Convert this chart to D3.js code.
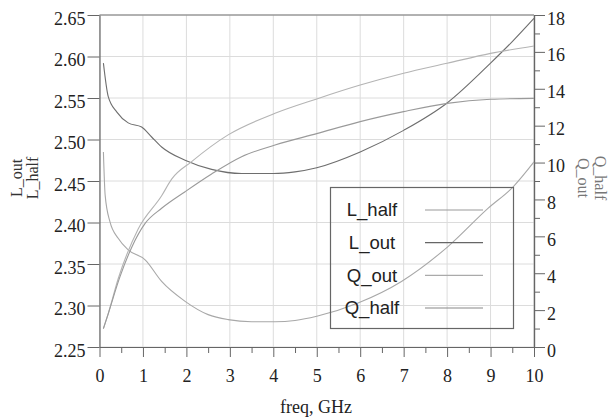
<!DOCTYPE html>
<html>
<head>
<meta charset="utf-8">
<script src="https://cdn.jsdelivr.net/npm/d3@7"></script>
<style>
  html, body { margin: 0; padding: 0; background: #fff; }
  svg { display: block; }
</style>
</head>
<body>
<svg id="chart" width="614" height="420"></svg>
<script>
// Inductance (left axis) and quality factor (right axis) versus frequency
const freqLout = [0.09, 0.2, 0.4, 0.66, 0.97, 1.2, 1.43, 1.97, 2.58, 3.27, 4.0, 4.5, 5.0, 6.0, 7.0, 8.0, 9.0, 9.5, 10.0];
const L_out    = [2.592, 2.552, 2.533, 2.520, 2.515, 2.503, 2.491, 2.475, 2.464, 2.459, 2.459, 2.461, 2.466, 2.485, 2.511, 2.544, 2.592, 2.618, 2.646];

const freqLhalf = [0.09, 0.13, 0.24, 0.43, 0.66, 1.05, 1.43, 1.97, 2.5, 2.96, 3.5, 4.04, 4.5, 5.0, 5.95, 6.95, 8.02, 8.94, 9.52, 10.0];
const L_half    = [2.485, 2.433, 2.401, 2.381, 2.367, 2.355, 2.329, 2.305, 2.289, 2.283, 2.2805, 2.2805, 2.282, 2.287, 2.303, 2.329, 2.371, 2.417, 2.443, 2.473];

const freqQout = [0.09, 0.2, 0.43, 0.89, 1.43, 1.66, 2.12, 2.96, 4.04, 5.0, 6.0, 7.0, 8.0, 9.0, 10.0];
const Q_out    = [1.0, 1.8, 3.7, 6.4, 8.2, 9.1, 10.05, 11.5, 12.67, 13.45, 14.2, 14.84, 15.38, 15.92, 16.32];

const freqQhalf = [0.09, 0.2, 0.47, 0.74, 1.05, 1.43, 1.97, 2.58, 3.27, 4.04, 5.0, 6.0, 7.0, 8.0, 9.0, 10.0];
const Q_half    = [1.0, 1.8, 3.8, 5.4, 6.7, 7.52, 8.42, 9.38, 10.32, 10.95, 11.57, 12.22, 12.76, 13.21, 13.43, 13.48];

const freqTicks = [0, 1, 2, 3, 4, 5, 6, 7, 8, 9, 10];
const freqMinor = [0.5, 1.5, 2.5, 3.5, 4.5, 5.5, 6.5, 7.5, 8.5, 9.5];
const lTicks = [2.25, 2.30, 2.35, 2.40, 2.45, 2.50, 2.55, 2.60, 2.65];
const qTicks = [0, 2, 4, 6, 8, 10, 12, 14, 16, 18];
const qMinor = [1, 3, 5, 7, 9, 11, 13, 15, 17];

const legendNames = ["L_half", "L_out", "Q_out", "Q_half"];

const svg = d3.select("#chart");
const plotLeft = 99.5, plotRight = 534, plotTop = 15, plotBottom = 347;

const x = d3.scaleLinear().domain([0, 10]).range([plotLeft, plotRight]);
const yL = d3.scaleLinear().domain([2.25, 2.65]).range([plotBottom, plotTop]);
const yQ = d3.scaleLinear().domain([0, 18]).range([plotBottom, plotTop]);

const serif = "'Liberation Serif', 'Times New Roman', serif";
const sans = "'Liberation Sans', Arial, sans-serif";

// grid
const grid = svg.append("g").attr("stroke", "#dcdcdc").attr("stroke-width", 1);
grid.selectAll("line.v").data(freqTicks).join("line")
  .attr("x1", d => x(d)).attr("x2", d => x(d))
  .attr("y1", plotTop).attr("y2", plotBottom);
grid.selectAll("line.h").data(lTicks).join("line")
  .attr("x1", plotLeft).attr("x2", plotRight)
  .attr("y1", d => yL(d)).attr("y2", d => yL(d));

// frame top
svg.append("line").attr("x1", plotLeft).attr("x2", plotRight).attr("y1", plotTop).attr("y2", plotTop)
  .attr("stroke", "#777").attr("stroke-width", 1.2);

function styleAxis(g) {
  g.select(".domain").attr("stroke", "#666").attr("stroke-width", 1.2);
  g.selectAll(".tick line").attr("stroke", "#666");
  g.selectAll("text").attr("font-family", serif).attr("font-size", 18).attr("fill", "#222");
}

// left axis
svg.append("g").attr("transform", `translate(${plotLeft},0)`)
  .call(d3.axisLeft(yL).tickValues(lTicks).tickFormat(d3.format(".2f")).tickSize(12).tickPadding(2).tickSizeOuter(0))
  .call(styleAxis)
  .call(g => g.selectAll("text").attr("dy", "0.5em"));

// right axis
svg.append("g").attr("transform", `translate(${plotRight},0)`)
  .call(d3.axisRight(yQ).tickValues(qTicks).tickSize(11).tickPadding(2).tickSizeOuter(0))
  .call(styleAxis)
  .call(g => g.selectAll("text").attr("dy", "0.5em"));
svg.append("g").attr("transform", `translate(${plotRight},0)`)
  .call(d3.axisRight(yQ).tickValues(qMinor).tickSize(6).tickFormat("").tickSizeOuter(0))
  .call(styleAxis);

// bottom axis
svg.append("g").attr("transform", `translate(0,${plotBottom})`)
  .call(d3.axisBottom(x).tickValues(freqTicks).tickSize(10).tickPadding(12).tickSizeOuter(0))
  .call(styleAxis);
svg.append("g").attr("transform", `translate(0,${plotBottom})`)
  .call(d3.axisBottom(x).tickValues(freqMinor).tickSize(6).tickFormat("").tickSizeOuter(0))
  .call(styleAxis);

// axis titles
svg.append("text").attr("x", 316).attr("y", 413).attr("text-anchor", "middle")
  .attr("font-family", serif).attr("font-size", 18).attr("fill", "#222").text("freq, GHz");

const ly = (plotTop + plotBottom) / 2 - 3;
svg.append("text").attr("transform", `translate(22,${ly}) rotate(-90)`).attr("text-anchor", "middle")
  .attr("font-family", serif).attr("font-size", 16).attr("fill", "#333").text("L_out");
svg.append("text").attr("transform", `translate(38,${ly}) rotate(-90)`).attr("text-anchor", "middle")
  .attr("font-family", serif).attr("font-size", 16).attr("fill", "#333").text("L_half");
svg.append("text").attr("transform", `translate(595,${ly}) rotate(90)`).attr("text-anchor", "middle")
  .attr("font-family", serif).attr("font-size", 16).attr("fill", "#777").text("Q_half");
svg.append("text").attr("transform", `translate(578,${ly}) rotate(90)`).attr("text-anchor", "middle")
  .attr("font-family", serif).attr("font-size", 16).attr("fill", "#777").text("Q_out");

// curves
const series = [
  { f: freqLhalf, v: L_half, y: yL, color: "#a8a8a8" },
  { f: freqLout,  v: L_out,  y: yL, color: "#6e6e6e" },
  { f: freqQout,  v: Q_out,  y: yQ, color: "#b4b4b4" },
  { f: freqQhalf, v: Q_half, y: yQ, color: "#9a9a9a" }
];
series.forEach(s => {
  const line = d3.line().x((d, i) => x(s.f[i])).y(d => s.y(d)).curve(d3.curveMonotoneX);
  svg.append("path").datum(s.v).attr("d", line)
    .attr("fill", "none").attr("stroke", s.color).attr("stroke-width", 1.1);
});

// legend
const lg = svg.append("g");
lg.append("rect").attr("x", 330.5).attr("y", 187.5).attr("width", 183).attr("height", 141)
  .attr("fill", "none").attr("stroke", "#666").attr("stroke-width", 1.2);
const legendY = d3.scalePoint().domain(legendNames).range([210, 308]);
const legendColors = ["#999", "#666", "#aaa", "#888"];
legendNames.forEach((n, i) => {
  lg.append("text").attr("x", 372).attr("y", legendY(n)).attr("dy", "0.35em")
    .attr("text-anchor", "middle").attr("font-family", sans).attr("font-size", 18.5)
    .attr("fill", "#222").text(n);
  lg.append("line").attr("x1", 425).attr("x2", 483)
    .attr("y1", legendY(n)).attr("y2", legendY(n))
    .attr("stroke", legendColors[i]).attr("stroke-width", 1.1);
});
</script>
</body>
</html>
